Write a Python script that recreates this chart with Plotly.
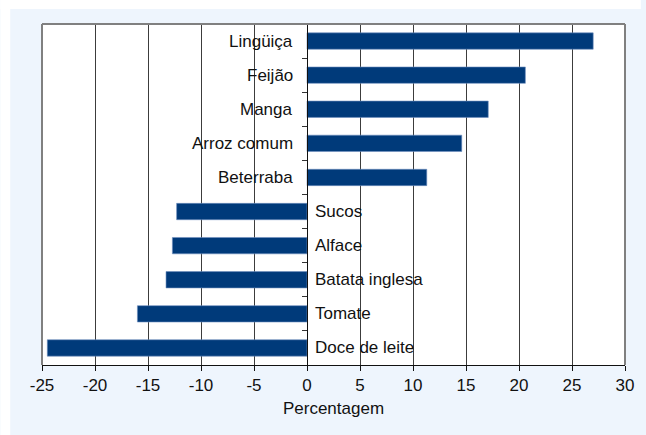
import plotly.graph_objects as go

categories = ["Lingüiça", "Feijão", "Manga", "Arroz comum", "Beterraba",
              "Sucos", "Alface", "Batata inglesa", "Tomate", "Doce de leite"]
values = [27.0, 20.6, 17.1, 14.6, 11.3, -12.3, -12.7, -13.3, -16.0, -24.5]
x_ticks = [-25, -20, -15, -10, -5, 0, 5, 10, 15, 20, 25, 30]
x_title = "Percentagem"

W, H = 646, 435
L, R, T, B = 42, 16, 24, 70
pw, ph = W - L - R, H - T - B
FONT = "Liberation Sans, Arial, sans-serif"
BG = "#EEF5FD"
FS = 17

fig = go.Figure()
fig.add_trace(go.Bar(
    x=values, y=categories, orientation="h",
    marker=dict(color="#003A7A", line=dict(color="#6F8FBF", width=0.6)),
    width=0.48, showlegend=False, hoverinfo="x+y",
))

annotations = []
for c, v in zip(categories, values):
    if v >= 0:
        annotations.append(dict(x=0, y=c, xref="x", yref="y", text=c, showarrow=False,
                                xanchor="right", xshift=-12, font=dict(size=FS, color="#111111", family=FONT)))
    else:
        annotations.append(dict(x=0, y=c, xref="x", yref="y", text=c, showarrow=False,
                                xanchor="left", xshift=6, font=dict(size=FS, color="#111111", family=FONT)))

def px_x(p):
    return (p - L) / pw

def px_y(p):
    return (T + ph - p) / ph

shapes = [
    # white strips before the light-blue panel
    dict(type="rect", xref="paper", yref="paper", x0=px_x(0), x1=px_x(10), y0=px_y(H), y1=px_y(0),
         fillcolor="white", line=dict(width=0), layer="below"),
    dict(type="rect", xref="paper", yref="paper", x0=px_x(0), x1=px_x(W), y0=px_y(9), y1=px_y(0),
         fillcolor="white", line=dict(width=0), layer="below"),
    # gray frame: left, top, right
    dict(type="line", xref="paper", yref="paper", x0=0, x1=0, y0=0, y1=1, line=dict(color="#808080", width=2)),
    dict(type="line", xref="paper", yref="paper", x0=0, x1=1, y0=1, y1=1, line=dict(color="#808080", width=2)),
    dict(type="line", xref="paper", yref="paper", x0=1, x1=1, y0=0, y1=1, line=dict(color="#808080", width=2)),
]

fig.update_layout(
    width=W, height=H,
    margin=dict(l=L, r=R, t=T, b=B, pad=0),
    paper_bgcolor=BG, plot_bgcolor="white",
    font=dict(family=FONT, size=FS, color="#111111"),
    annotations=annotations,
    shapes=shapes,
    xaxis=dict(
        range=[-25, 30], tickvals=x_ticks, ticktext=[str(t) for t in x_ticks],
        ticks="outside", ticklen=5, tickcolor="#111111", tickwidth=1,
        showline=True, linecolor="#111111", linewidth=1,
        showgrid=True, gridcolor="#3C3C3C", gridwidth=1,
        zeroline=True, zerolinecolor="#111111", zerolinewidth=1,
        tickfont=dict(size=FS, family=FONT, color="#111111"),
        title=dict(text=x_title, font=dict(size=FS, family=FONT, color="#111111"), standoff=7),
    ),
    yaxis=dict(
        categoryorder="array", categoryarray=categories, autorange="reversed",
        anchor="free", position=25 / 55, side="left",
        showticklabels=False, showgrid=False, zeroline=False,
        ticks="outside", tickson="boundaries", ticklen=5, tickcolor="#333333",
        showline=True, linecolor="#111111", linewidth=1,
    ),
)

fig.write_html("out.html",
               config={"displayModeBar": False},
               post_script="document.body.style.margin='0';document.body.style.overflow='hidden';")
